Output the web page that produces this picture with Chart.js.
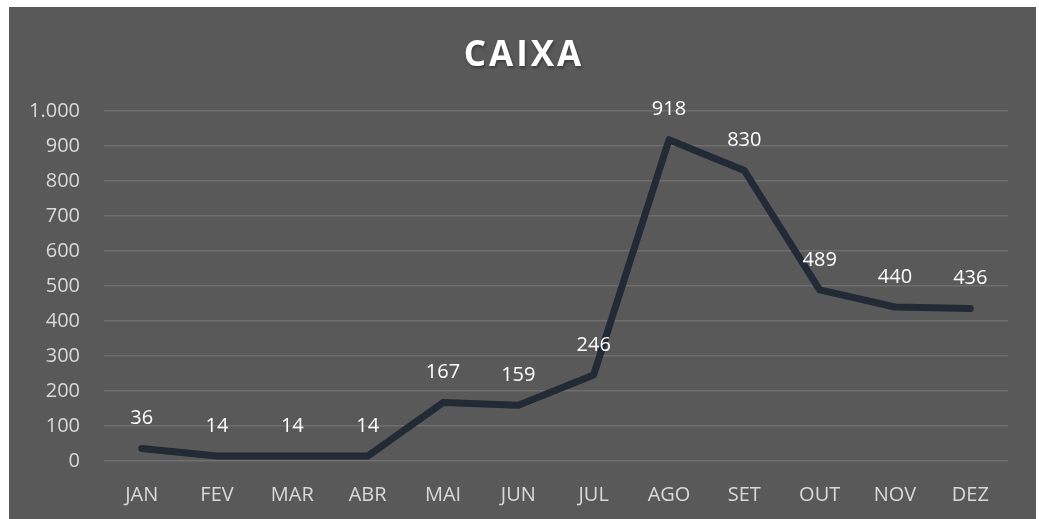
<!DOCTYPE html>
<html>
<head>
<meta charset="utf-8">
<script src="https://cdn.jsdelivr.net/npm/chart.js@4"></script>
<style>
  html, body { margin: 0; padding: 0; background: #ffffff; }
  #box { position: absolute; left: 9px; top: 7px; width: 1027px; height: 512px; background: #595959; }
</style>
</head>
<body>
<div id="box"><canvas id="caixa-chart"></canvas></div>
<script>
// dados do gráfico
var titulo = "CAIXA";
var meses = ["JAN", "FEV", "MAR", "ABR", "MAI", "JUN", "JUL", "AGO", "SET", "OUT", "NOV", "DEZ"];
var valores = [36, 14, 14, 14, 167, 159, 246, 918, 830, 489, 440, 436];
var eixoMax = 1000;
var eixoPasso = 100;

function fmt(v) {
  return String(v).replace(/\B(?=(\d{3})+(?!\d))/g, ".");
}

// título e rótulos de dados
var rotulos = {
  id: "rotulos",
  afterDraw: function (chart) {
    var ctx = chart.ctx;
    var meta = chart.getDatasetMeta(0);
    ctx.save();
    ctx.fillStyle = "#ffffff";
    ctx.textAlign = "center";
    ctx.textBaseline = "middle";
    ctx.font = "20px 'Open Sans', sans-serif";
    meta.data.forEach(function (pt, i) {
      ctx.fillText(fmt(valores[i]), pt.x, pt.y - 30);
    });
    // título com espaçamento entre letras
    ctx.font = "bold 35px 'Open Sans', sans-serif";
    ctx.letterSpacing = "3px";
    ctx.shadowColor = "rgba(0,0,0,0.35)";
    ctx.shadowOffsetX = 1;
    ctx.shadowOffsetY = 2;
    ctx.shadowBlur = 3;
    ctx.fillText(titulo, chart.width / 2 + 1.5, 49);
    ctx.restore();
  }
};

var ctx = document.getElementById("caixa-chart").getContext("2d");
new Chart(ctx, {
  type: "line",
  data: {
    labels: meses,
    datasets: [{
      data: valores,
      borderColor: "#222a35",
      borderWidth: 7,
      pointRadius: 0,
      tension: 0,
      borderCapStyle: "round",
      borderJoinStyle: "round",
    }],
  },
  options: {
    responsive: true,
    maintainAspectRatio: false,
    animation: false,
    layout: { padding: { left: 0, right: 28, top: 104, bottom: 0 } },
    plugins: {
      legend: { display: false },
      tooltip: { enabled: false },
      title: { display: false },
    },
    scales: {
      x: {
        offset: true,
        grid: { display: false },
        border: { display: false },
        ticks: { color: "#d9d9d9", font: { family: "'Open Sans', sans-serif", size: 20 }, padding: 14 },
        afterFit: function (s) { s.height = 58; },
      },
      y: {
        min: 0,
        max: eixoMax,
        grid: { color: "#6e6e6e", lineWidth: 1.5, drawTicks: false },
        border: { display: false },
        ticks: {
          stepSize: eixoPasso,
          color: "#d9d9d9",
          font: { family: "'Open Sans', sans-serif", size: 20 },
          padding: 24,
          callback: function (v) { return fmt(v); },
        },
        afterFit: function (s) { s.width = 95; },
      },
    },
  },
  plugins: [rotulos],
});
</script>
</body>
</html>
